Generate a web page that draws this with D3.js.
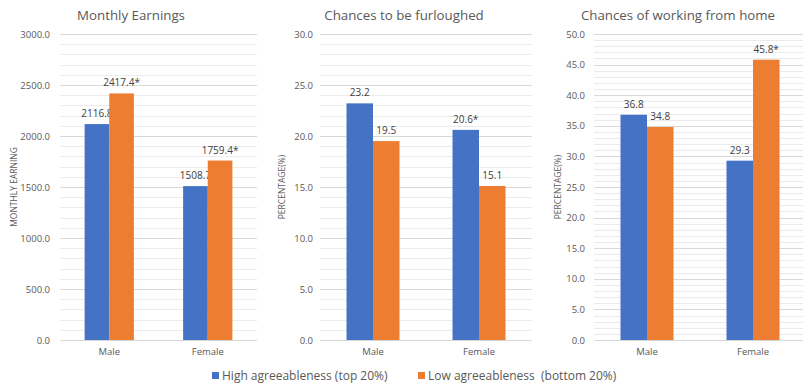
<!DOCTYPE html>
<html>
<head>
<meta charset="utf-8">
<script src="https://cdn.jsdelivr.net/npm/d3@7"></script>
<style>
  html, body { margin: 0; padding: 0; background: #fff; }
  svg { display: block; font-family: "Open Sans", "Noto Sans", sans-serif; }
</style>
</head>
<body>
<svg id="chart" width="803" height="383"></svg>
<script>
// Categories and series
const categories = ["Male", "Female"];
const seriesNames = ["High agreeableness (top 20%)", "Low agreeableness  (bottom 20%)"];
const seriesColors = ["#4472C4", "#ED7D31"];

// Monthly earnings
const earningsHigh = [2116.8, 1508.7];
const earningsLow = [2417.4, 1759.4];
const earningsLabels = [["2116.8", "1508.7"], ["2417.4*", "1759.4*"]];

// Chances to be furloughed (%)
const furloughHigh = [23.2, 20.6];
const furloughLow = [19.5, 15.1];
const furloughLabels = [["23.2", "20.6*"], ["19.5", "15.1"]];

// Chances of working from home (%)
const homeHigh = [36.8, 29.3];
const homeLow = [34.8, 45.8];
const homeLabels = [["36.8", "29.3"], ["34.8", "45.8*"]];

const panels = [
  { title: "Monthly Earnings", yTitle: "MONTHLY EARNING", max: 3000, major: 500, minor: 100,
    high: earningsHigh, low: earningsLow, labels: earningsLabels,
    x0: 60, x1: 257, tickRight: 50, yTitleX: 14, titleX: 131 },
  { title: "Chances to be furloughed", yTitle: "PERCENTAGE(%)", max: 30, major: 5, minor: 1,
    high: furloughHigh, low: furloughLow, labels: furloughLabels,
    x0: 320, x1: 532, tickRight: 313, yTitleX: 282, titleX: 404 },
  { title: "Chances of working from home", yTitle: "PERCENTAGE(%)", max: 50, major: 5, minor: 1,
    high: homeHigh, low: homeLow, labels: homeLabels,
    x0: 594, x1: 806, tickRight: 585, yTitleX: 558, titleX: 678 }
];

const svg = d3.select("#chart");
const yTop = 34, yBottom = 340;

panels.forEach(p => {
  const g = svg.append("g");
  const y = d3.scaleLinear().domain([0, p.max]).range([yBottom, yTop]);
  const x = d3.scaleBand().domain(categories).range([p.x0, p.x1]).paddingInner(0.5).paddingOuter(0.25);
  const xs = d3.scaleBand().domain([0, 1]).range([0, x.bandwidth()]);

  // minor gridlines
  const minorTicks = d3.range(0, p.max + p.minor / 2, p.minor).filter(v => Math.abs(v / p.major - Math.round(v / p.major)) > 1e-6);
  g.selectAll(".minor").data(minorTicks).join("line")
    .attr("x1", p.x0).attr("x2", p.x1)
    .attr("y1", d => Math.round(y(d)) + 0.5).attr("y2", d => Math.round(y(d)) + 0.5)
    .attr("stroke", "#ebebeb").attr("stroke-width", 1);

  // major gridlines
  const majorTicks = d3.range(0, p.max + p.major / 2, p.major);
  g.selectAll(".major").data(majorTicks).join("line")
    .attr("x1", p.x0).attr("x2", p.x1)
    .attr("y1", d => Math.round(y(d)) + 0.5).attr("y2", d => Math.round(y(d)) + 0.5)
    .attr("stroke", "#d9d9d9").attr("stroke-width", 1);

  // y axis tick labels
  const yAxis = d3.axisLeft(y).tickValues(majorTicks).tickFormat(d3.format(".1f")).tickSize(0).tickPadding(0);
  const ya = g.append("g").attr("transform", `translate(${p.tickRight},0)`).call(yAxis);
  ya.select(".domain").remove();
  ya.selectAll("text").attr("fill", "#595959").attr("font-size", "9.5px")
    .attr("font-family", "'Open Sans', sans-serif");

  // x axis category labels
  const xAxis = d3.axisBottom(x).tickSize(0).tickPadding(0);
  const xa = g.append("g").attr("transform", `translate(0,${yBottom + 8})`).call(xAxis);
  xa.select(".domain").remove();
  xa.selectAll("text").attr("fill", "#595959").attr("font-size", "9.5px")
    .attr("dy", "0.71em").attr("font-family", "'Open Sans', sans-serif");

  // bars
  const series = [p.high, p.low];
  series.forEach((vals, si) => {
    g.selectAll(".bar" + si).data(categories).join("rect")
      .attr("x", (c) => x(c) + xs(si))
      .attr("width", xs.bandwidth())
      .attr("y", (c, i) => y(vals[i]))
      .attr("height", (c, i) => yBottom - y(vals[i]))
      .attr("fill", seriesColors[si]);

    g.selectAll(".lbl" + si).data(categories).join("text")
      .attr("x", (c) => x(c) + xs(si) + xs.bandwidth() / 2)
      .attr("y", (c, i) => y(vals[i]) - 7)
      .attr("text-anchor", "middle")
      .attr("fill", "#404040")
      .attr("font-size", "10px")
      .text((c, i) => p.labels[si][i]);
  });

  // chart title
  g.append("text").attr("x", p.titleX).attr("y", 20).attr("text-anchor", "middle")
    .attr("fill", "#595959").attr("font-size", "13.3px").text(p.title);

  // y axis title
  g.append("text")
    .attr("transform", `translate(${p.yTitleX},${(yTop + yBottom) / 2}) rotate(-90)`)
    .attr("text-anchor", "middle").attr("dy", "0.35em")
    .attr("fill", "#595959").attr("font-size", "8.5px").text(p.yTitle);
});

// legend
const legend = svg.append("g");
const legendX = [212, 418];
seriesNames.forEach((name, i) => {
  legend.append("rect").attr("x", legendX[i]).attr("y", 372).attr("width", 7).attr("height", 7)
    .attr("fill", seriesColors[i]);
  legend.append("text").attr("x", legendX[i] + 10).attr("y", 379.5)
    .attr("fill", "#595959").attr("font-size", "12px")
    .attr("xml:space", "preserve").style("white-space", "pre").text(name);
});
</script>
</body>
</html>
